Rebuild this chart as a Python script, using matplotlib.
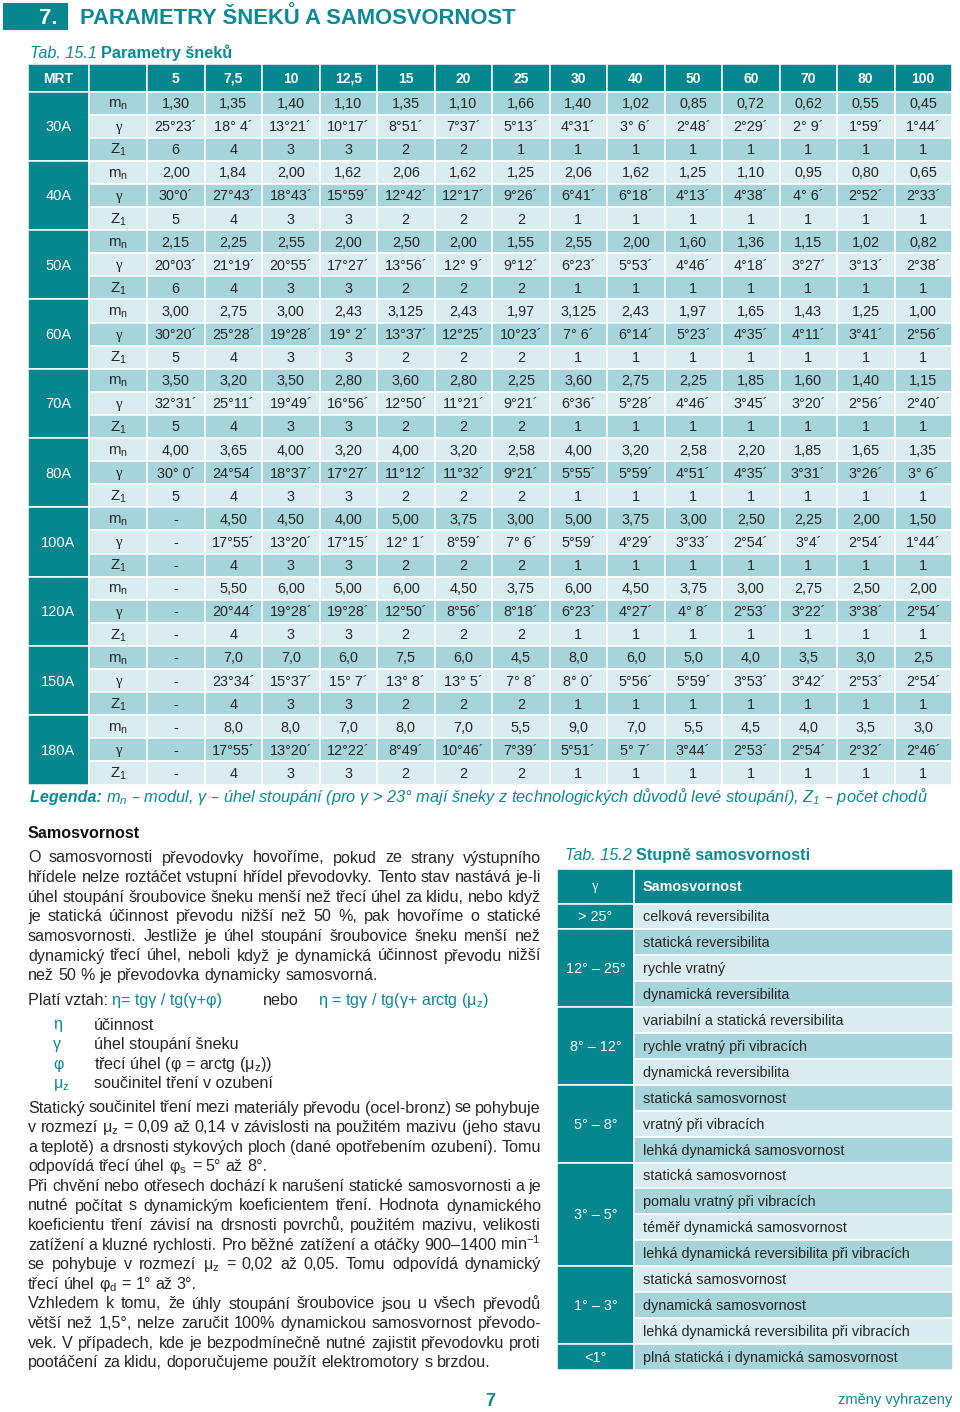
import matplotlib
matplotlib.use("Agg")
import matplotlib.pyplot as plt
from matplotlib.patches import Rectangle

# ---- data: Tab. 15.1 Parametry šneků ----
mrt_sizes = ["30A", "40A", "50A", "60A", "70A", "80A", "100A", "120A", "150A", "180A"]
ratios = ["5", "7,5", "10", "12,5", "15", "20", "25", "30", "40", "50", "60", "70", "80", "100"]

mn = [
    ["1,30", "1,35", "1,40", "1,10", "1,35", "1,10", "1,66", "1,40", "1,02", "0,85", "0,72", "0,62", "0,55", "0,45"],
    ["2,00", "1,84", "2,00", "1,62", "2,06", "1,62", "1,25", "2,06", "1,62", "1,25", "1,10", "0,95", "0,80", "0,65"],
    ["2,15", "2,25", "2,55", "2,00", "2,50", "2,00", "1,55", "2,55", "2,00", "1,60", "1,36", "1,15", "1,02", "0,82"],
    ["3,00", "2,75", "3,00", "2,43", "3,125", "2,43", "1,97", "3,125", "2,43", "1,97", "1,65", "1,43", "1,25", "1,00"],
    ["3,50", "3,20", "3,50", "2,80", "3,60", "2,80", "2,25", "3,60", "2,75", "2,25", "1,85", "1,60", "1,40", "1,15"],
    ["4,00", "3,65", "4,00", "3,20", "4,00", "3,20", "2,58", "4,00", "3,20", "2,58", "2,20", "1,85", "1,65", "1,35"],
    ["-", "4,50", "4,50", "4,00", "5,00", "3,75", "3,00", "5,00", "3,75", "3,00", "2,50", "2,25", "2,00", "1,50"],
    ["-", "5,50", "6,00", "5,00", "6,00", "4,50", "3,75", "6,00", "4,50", "3,75", "3,00", "2,75", "2,50", "2,00"],
    ["-", "7,0", "7,0", "6,0", "7,5", "6,0", "4,5", "8,0", "6,0", "5,0", "4,0", "3,5", "3,0", "2,5"],
    ["-", "8,0", "8,0", "7,0", "8,0", "7,0", "5,5", "9,0", "7,0", "5,5", "4,5", "4,0", "3,5", "3,0"],
]

gamma = [
    ["25°23´", "18° 4´", "13°21´", "10°17´", "8°51´", "7°37´", "5°13´", "4°31´", "3° 6´", "2°48´", "2°29´", "2° 9´", "1°59´", "1°44´"],
    ["30°0´", "27°43´", "18°43´", "15°59´", "12°42´", "12°17´", "9°26´", "6°41´", "6°18´", "4°13´", "4°38´", "4° 6´", "2°52´", "2°33´"],
    ["20°03´", "21°19´", "20°55´", "17°27´", "13°56´", "12° 9´", "9°12´", "6°23´", "5°53´", "4°46´", "4°18´", "3°27´", "3°13´", "2°38´"],
    ["30°20´", "25°28´", "19°28´", "19° 2´", "13°37´", "12°25´", "10°23´", "7° 6´", "6°14´", "5°23´", "4°35´", "4°11´", "3°41´", "2°56´"],
    ["32°31´", "25°11´", "19°49´", "16°56´", "12°50´", "11°21´", "9°21´", "6°36´", "5°28´", "4°46´", "3°45´", "3°20´", "2°56´", "2°40´"],
    ["30° 0´", "24°54´", "18°37´", "17°27´", "11°12´", "11°32´", "9°21´", "5°55´", "5°59´", "4°51´", "4°35´", "3°31´", "3°26´", "3° 6´"],
    ["-", "17°55´", "13°20´", "17°15´", "12° 1´", "8°59´", "7° 6´", "5°59´", "4°29´", "3°33´", "2°54´", "3°4´", "2°54´", "1°44´"],
    ["-", "20°44´", "19°28´", "19°28´", "12°50´", "8°56´", "8°18´", "6°23´", "4°27´", "4° 8´", "2°53´", "3°22´", "3°38´", "2°54´"],
    ["-", "23°34´", "15°37´", "15° 7´", "13° 8´", "13° 5´", "7° 8´", "8° 0´", "5°56´", "5°59´", "3°53´", "3°42´", "2°53´", "2°54´"],
    ["-", "17°55´", "13°20´", "12°22´", "8°49´", "10°46´", "7°39´", "5°51´", "5° 7´", "3°44´", "2°53´", "2°54´", "2°32´", "2°46´"],
]

z1 = [
    [6, 4, 3, 3, 2, 2, 1, 1, 1, 1, 1, 1, 1, 1],
    [5, 4, 3, 3, 2, 2, 2, 1, 1, 1, 1, 1, 1, 1],
    [6, 4, 3, 3, 2, 2, 2, 1, 1, 1, 1, 1, 1, 1],
    [5, 4, 3, 3, 2, 2, 2, 1, 1, 1, 1, 1, 1, 1],
    [5, 4, 3, 3, 2, 2, 2, 1, 1, 1, 1, 1, 1, 1],
    [5, 4, 3, 3, 2, 2, 2, 1, 1, 1, 1, 1, 1, 1],
    ["-", 4, 3, 3, 2, 2, 2, 1, 1, 1, 1, 1, 1, 1],
    ["-", 4, 3, 3, 2, 2, 2, 1, 1, 1, 1, 1, 1, 1],
    ["-", 4, 3, 3, 2, 2, 2, 1, 1, 1, 1, 1, 1, 1],
    ["-", 4, 3, 3, 2, 2, 2, 1, 1, 1, 1, 1, 1, 1],
]

# ---- data: Tab. 15.2 Stupně samosvornosti ----
gamma_ranges = ["> 25°", "12° – 25°", "8° – 12°", "5° – 8°", "3° – 5°", "1° – 3°", "<1°"]
range_rows = [1, 3, 3, 3, 4, 3, 1]
self_locking = [
    "celková reversibilita",
    "statická reversibilita", "rychle vratný", "dynamická reversibilita",
    "variabilní a statická reversibilita", "rychle vratný při vibracích", "dynamická reversibilita",
    "statická samosvornost", "vratný při vibracích", "lehká dynamická samosvornost",
    "statická samosvornost", "pomalu vratný při vibracích", "téměř dynamická samosvornost",
    "lehká dynamická reversibilita při vibracích",
    "statická samosvornost", "dynamická samosvornost", "lehká dynamická reversibilita při vibracích",
    "plná statická i dynamická samosvornost",
]

SUB_N = r"$_\mathregular{n}$"
SUB_Z = r"$_\mathregular{z}$"

para1 = [
    "O samosvornosti převodovky hovoříme, pokud ze strany výstupního",
    "hřídele nelze roztáčet vstupní hřídel převodovky. Tento stav nastává je-li",
    "úhel stoupání šroubovice šneku menší než třecí úhel za klidu, nebo když",
    "je statická účinnost převodu nižší než 50 %, pak hovoříme o statické",
    "samosvornosti. Jestliže je úhel stoupání šroubovice šneku menší než",
    "dynamický třecí úhel, neboli když je dynamická účinnost převodu nižší",
    "než 50 % je převodovka dynamicky samosvorná.",
]
para2 = [
    "Statický součinitel tření mezi materiály převodu (ocel-bronz) se pohybuje",
    "v rozmezí μ" + SUB_Z + " = 0,09 až 0,14 v závislosti na použitém mazivu (jeho stavu",
    "a teplotě) a drsnosti stykových ploch (dané opotřebením ozubení). Tomu",
    "odpovídá třecí úhel φ" + r"$_\mathregular{s}$" + " = 5° až 8°.",
    "Při chvění nebo otřesech dochází k narušení statické samosvornosti a je",
    "nutné počítat s dynamickým koeficientem tření. Hodnota dynamického",
    "koeficientu tření závisí na drsnosti povrchů, použitém mazivu, velikosti",
    "zatížení a kluzné rychlosti. Pro běžné zatížení a otáčky 900–1400 min" + r"$^\mathregular{-1}$",
    "se pohybuje v rozmezí μ" + SUB_Z + " = 0,02 až 0,05. Tomu odpovídá dynamický",
    "třecí úhel φ" + r"$_\mathregular{d}$" + " = 1° až 3°.",
    "Vzhledem k tomu, že úhly stoupání šroubovice jsou u všech převodů",
    "větší než 1,5°, nelze zaručit 100% dynamickou samosvornost převodo-",
    "vek. V případech, kde je bezpodmínečně nutné zajistit převodovku proti",
    "pootáčení za klidu, doporučujeme použít elektromotory s brzdou.",
]
para2_last = [3, 9, 13]

symbols = ["η", "γ", "φ", "μ" + SUB_Z]
symbol_text = ["účinnost", "úhel stoupání šneku",
               "třecí úhel (φ = arctg (μ" + SUB_Z + "))", "součinitel tření v ozubení"]

TEAL = "#06868f"
TEAL_TXT = "#0a8a94"
MID = "#a6d4db"
LIGHT = "#d9edf0"
INK = "#262626"
BODY = 11.6

plt.rcParams["font.family"] = ["Liberation Sans", "DejaVu Sans"]

fig = plt.figure(figsize=(9.6, 14.12), dpi=100)
ax = fig.add_axes([0, 0, 1, 1])
ax.set_xlim(0, 960)
ax.set_ylim(1412, 0)
ax.axis("off")
renderer = fig.canvas.get_renderer()


def cell(x, y, w, h, color):
    ax.add_patch(Rectangle((x, y), w, h, facecolor=color,
                           edgecolor="white", linewidth=1.1))


def justify(lines, x0, x1, y0, step, size, last_lines):
    for i, line in enumerate(lines):
        y = y0 + i * step
        words = line.split(" ")
        objs = [ax.text(0, y, w, fontsize=size, color=INK, va="baseline")
                for w in words]
        widths = [o.get_window_extent(renderer).width for o in objs]
        space = 0.278 * size * 100 / 72
        if i in last_lines or len(words) == 1:
            gap = space
        else:
            gap = max((x1 - x0 - sum(widths)) / (len(words) - 1), 0.6 * space)
        x = x0
        for o, w in zip(objs, widths):
            o.set_x(x)
            x += w + gap


# ---- page heading ----
ax.add_patch(Rectangle((3, 3), 65, 27, facecolor=TEAL, edgecolor="none"))
ax.text(48, 24, "7.", fontsize=15.8, color="white", fontweight="bold", ha="center", va="baseline")
ax.text(80, 24, "PARAMETRY ŠNEKŮ A SAMOSVORNOST", fontsize=15.8, color=TEAL_TXT,
        fontweight="bold", va="baseline")

t = ax.text(30, 58, "Tab. 15.1 ", fontsize=11.7, color=TEAL_TXT, style="italic", va="baseline")
w = t.get_window_extent(renderer).width
ax.text(30 + w, 58, "Parametry šneků", fontsize=11.7, color=TEAL_TXT, fontweight="bold", va="baseline")

# ---- table 15.1 ----
X0, W_MRT, W_SUB, W_COL = 28, 61, 58, 57.5
HY, HH = 64, 27.5
RY, RH = 91.5, 23.1
x_sub = X0 + W_MRT
x_val = x_sub + W_SUB

cell(X0, HY, W_MRT, HH, TEAL)
ax.text(X0 + W_MRT / 2, HY + HH / 2 + 5, "MRT", fontsize=10, color="white",
        fontweight="bold", ha="center", va="baseline")
cell(x_sub, HY, W_SUB, HH, TEAL)
for j, lab in enumerate(ratios):
    cell(x_val + j * W_COL, HY, W_COL, HH, TEAL)
    ax.text(x_val + (j + 0.5) * W_COL, HY + HH / 2 + 5, lab, fontsize=10, color="white",
            fontweight="bold", ha="center", va="baseline")

for g, size in enumerate(mrt_sizes):
    gy = RY + 3 * g * RH
    cell(X0, gy, W_MRT, 3 * RH, TEAL)
    ax.text(X0 + W_MRT / 2, gy + 1.5 * RH + 5, size, fontsize=10.5, color="white",
            ha="center", va="baseline")
    rows = [("m" + SUB_N, mn[g]), ("γ", gamma[g]), ("Z" + r"$_\mathregular{1}$", z1[g])]
    for k, (lab, vals) in enumerate(rows):
        i = 3 * g + k
        y = RY + i * RH
        col = MID if i % 2 == 0 else LIGHT
        cell(x_sub, y, W_SUB, RH, col)
        ax.text(x_sub + W_SUB / 2, y + RH / 2 + 4.5, lab, fontsize=10.8, color=INK,
                ha="center", va="baseline",
                family="Liberation Serif" if lab == "γ" else None)
        for j, v in enumerate(vals):
            cell(x_val + j * W_COL, y, W_COL, RH, col)
            ax.text(x_val + (j + 0.5) * W_COL, y + RH / 2 + 5, str(v), fontsize=10.4,
                    color=INK, ha="center", va="baseline")

t = ax.text(30, 802, "Legenda: ", fontsize=11.6, color=TEAL_TXT, fontweight="bold",
            style="italic", va="baseline")
w = t.get_window_extent(renderer).width
ax.text(30 + w, 802,
        "m" + SUB_N + " – modul, γ – úhel stoupání (pro γ > 23° mají šneky z technologických "
        "důvodů levé stoupání), Z" + r"$_\mathregular{1}$" + " – počet chodů",
        fontsize=11.8, color=TEAL_TXT, style="italic", va="baseline")

# ---- left column text ----
ax.text(28, 838, "Samosvornost", fontsize=BODY, color="#111111", fontweight="bold", va="baseline")
justify(para1, 28, 541, 862.5, 19.6, BODY, [len(para1) - 1])

t = ax.text(28, 1005, "Platí vztah: ", fontsize=BODY, color=INK, va="baseline")
w = t.get_window_extent(renderer).width
ax.text(28 + w, 1005, "η= tgγ / tg(γ+φ)", fontsize=BODY, color=TEAL_TXT, va="baseline")
ax.text(263, 1005, "nebo", fontsize=BODY, color=INK, va="baseline")
ax.text(318, 1005, "η = tgγ / tg(γ+ arctg (μ" + SUB_Z + ")", fontsize=BODY, color=TEAL_TXT,
        va="baseline")

for i, (s, txt) in enumerate(zip(symbols, symbol_text)):
    y = 1029.5 + i * 19.5
    ax.text(53, y, s, fontsize=BODY, color=TEAL_TXT, va="baseline")
    ax.text(94, y, txt, fontsize=BODY, color=INK, va="baseline")

justify(para2, 28, 541, 1112.5, 19.6, BODY, para2_last)

# ---- table 15.2 ----
t = ax.text(565, 860, "Tab. 15.2 ", fontsize=11.6, color=TEAL_TXT, style="italic", va="baseline")
w = t.get_window_extent(renderer).width
ax.text(565 + w, 860, "Stupně samosvornosti", fontsize=11.6, color=TEAL_TXT,
        fontweight="bold", va="baseline")

T2X, T2W1, T2W2 = 557, 77, 319
T2HY, T2HH = 868.5, 35
T2RY, T2RH = 903.5, 25.9

cell(T2X, T2HY, T2W1, T2HH, TEAL)
ax.text(T2X + T2W1 / 2, T2HY + T2HH / 2 + 4, "γ", fontsize=10.5, color="white",
        ha="center", va="baseline", family="Liberation Serif")
cell(T2X + T2W1, T2HY, T2W2, T2HH, TEAL)
ax.text(T2X + T2W1 + 9, T2HY + T2HH / 2 + 5, "Samosvornost", fontsize=10.4,
        color="white", fontweight="bold", va="baseline")

row = 0
for rng, n in zip(gamma_ranges, range_rows):
    gy = T2RY + row * T2RH
    cell(T2X, gy, T2W1, n * T2RH, TEAL)
    ax.text(T2X + T2W1 / 2, gy + n * T2RH / 2 + 5, rng, fontsize=10.4, color="white",
            ha="center", va="baseline")
    row += n

for i, txt in enumerate(self_locking):
    y = T2RY + i * T2RH
    cell(T2X + T2W1, y, T2W2, T2RH, LIGHT if i % 2 == 0 else MID)
    ax.text(T2X + T2W1 + 9, y + T2RH / 2 + 5, txt, fontsize=10.4, color=INK, va="baseline")

# ---- footer ----
ax.text(490, 1406, "7", fontsize=13, color=TEAL_TXT, fontweight="bold", ha="center", va="baseline")
ax.text(952, 1404, "změny vyhrazeny", fontsize=10.5, color=TEAL_TXT, ha="right", va="baseline")

fig.savefig("out.png", dpi=100, facecolor="white")
